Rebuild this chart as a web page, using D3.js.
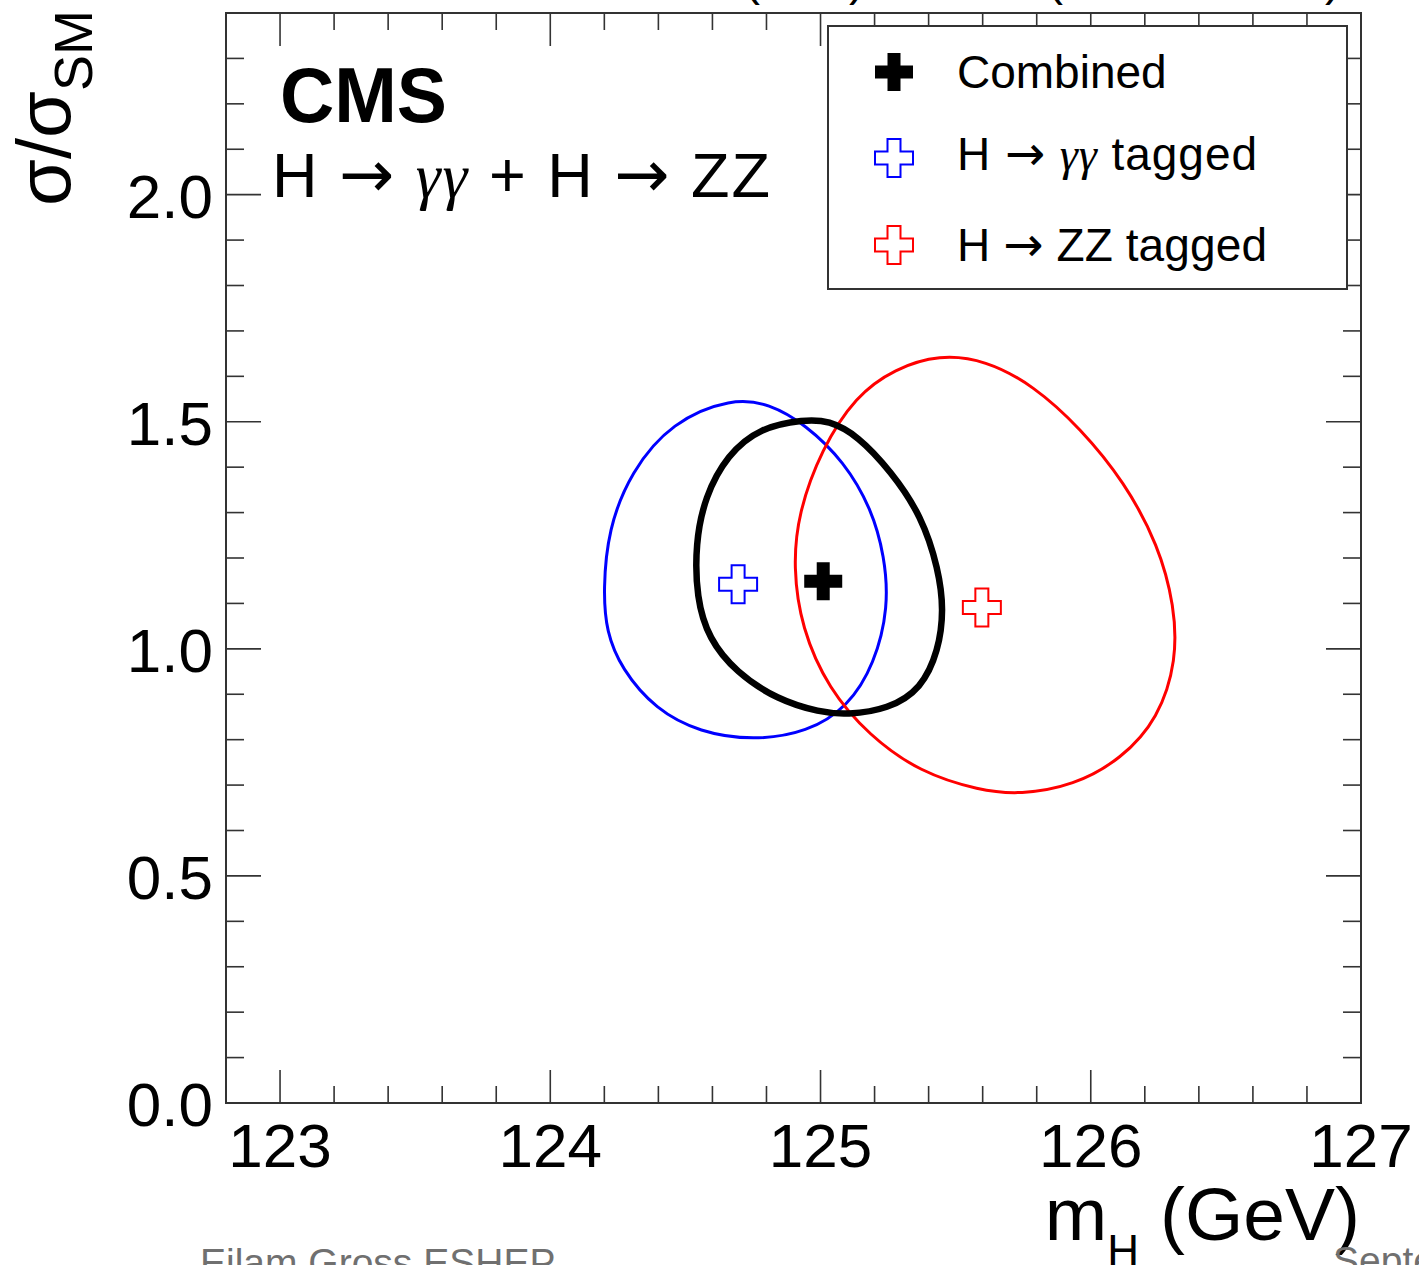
<!DOCTYPE html>
<html><head><meta charset="utf-8">
<script src="https://cdn.jsdelivr.net/npm/d3@7"></script>
<style>body{margin:0;background:#fff;overflow:hidden;} text{font-family:"Liberation Sans",Arial,Helvetica,sans-serif;}</style>
</head><body><svg id="c" width="1419" height="1265"></svg>
<script>
// ---------- data ----------
const xTickValues = [123, 124, 125, 126, 127];
const xTickLabels = ["123", "124", "125", "126", "127"];
const yTickValues = [0.0, 0.5, 1.0, 1.5, 2.0];
const yTickLabels = ["0.0", "0.5", "1.0", "1.5", "2.0"];
const seriesNames = ["Combined", "H → γγ tagged", "H → ZZ tagged"];
const seriesColors = ["#000000", "#0000ff", "#ff0000"];

// best-fit points (mH GeV, sigma/sigma_SM)
const bestCombined = [125.01, 1.149];
const bestGG = [124.695, 1.142];
const bestZZ = [125.597, 1.091];

// 68% CL contours (mH GeV, sigma/sigma_SM)
const contourGG = [
  [124.672, 1.552], [124.450, 1.500], [124.298, 1.390], [124.214, 1.263],
  [124.196, 1.129], [124.207, 1.038], [124.263, 0.956], [124.390, 0.866],
  [124.554, 0.816], [124.750, 0.798], [124.952, 0.816], [125.103, 0.873],
  [125.200, 0.967], [125.252, 1.092], [125.237, 1.204], [125.189, 1.308],
  [125.088, 1.412], [124.945, 1.494], [124.810, 1.540]
];
const contourZZ = [
  [125.440, 1.648], [125.275, 1.617], [125.130, 1.557], [125.003, 1.439],
  [124.917, 1.298], [124.899, 1.180], [124.929, 1.046], [125.030, 0.911],
  [125.180, 0.809], [125.368, 0.728], [125.590, 0.688], [125.738, 0.679],
  [125.937, 0.699], [126.113, 0.757], [126.251, 0.847], [126.318, 0.975],
  [126.310, 1.094], [126.251, 1.228], [126.124, 1.368], [125.963, 1.485],
  [125.788, 1.580], [125.610, 1.636]
];
const contourCombined = [
  [124.940, 1.505], [124.775, 1.487], [124.655, 1.427], [124.572, 1.335],
  [124.537, 1.232], [124.541, 1.112], [124.586, 1.022], [124.688, 0.948],
  [124.840, 0.888], [124.998, 0.860], [125.098, 0.855], [125.250, 0.867],
  [125.374, 0.912], [125.437, 0.997], [125.456, 1.085], [125.437, 1.175],
  [125.374, 1.293], [125.262, 1.390], [125.137, 1.470], [125.030, 1.503]
];

const topCutGlyphs = ["(", ")", "(", ")"];

// ---------- layout ----------
const svg = d3.select("#c");
svg.append("rect").attr("width", 1419).attr("height", 1265).attr("fill", "#fff");
const L = 226, R = 1361, T = 13, B = 1103;
const x = d3.scaleLinear().domain([122.8, 127]).range([L, R]);
const y = d3.scaleLinear().domain([0, 2.4]).range([B, T]);
const axisColor = "#333";
const ARROW = "DejaVu Sans, sans-serif";

// cut-off text fragments at the very top
const topX = [752, 857, 1055, 1333];
svg.selectAll("text.topcut").data(topCutGlyphs).join("text")
  .attr("class", "topcut").attr("x", (d, i) => topX[i]).attr("y", -5)
  .attr("text-anchor", "middle").attr("font-size", 48).text(d => d);

// frame
svg.append("rect").attr("x", L).attr("y", T).attr("width", R - L).attr("height", B - T)
  .attr("fill", "none").attr("stroke", axisColor).attr("stroke-width", 2);

// ticks
const xMinor = d3.range(122.8, 127.001, 0.2).map(v => +v.toFixed(1)).filter(v => !xTickValues.includes(v));
const yMinor = d3.range(0, 2.401, 0.1).map(v => +v.toFixed(1)).filter(v => !yTickValues.includes(v));
const tg = svg.append("g").attr("stroke", axisColor).attr("stroke-width", 1.6);
function vt(vals, len) {
  vals.forEach(v => {
    tg.append("line").attr("x1", x(v)).attr("x2", x(v)).attr("y1", B).attr("y2", B - len);
    tg.append("line").attr("x1", x(v)).attr("x2", x(v)).attr("y1", T).attr("y2", T + len);
  });
}
function ht(vals, len) {
  vals.forEach(v => {
    tg.append("line").attr("y1", y(v)).attr("y2", y(v)).attr("x1", L).attr("x2", L + len);
    tg.append("line").attr("y1", y(v)).attr("y2", y(v)).attr("x1", R).attr("x2", R - len);
  });
}
vt(xTickValues, 33); vt(xMinor, 17);
ht(yTickValues, 35); ht(yMinor, 18);

// tick labels
svg.selectAll("text.xl").data(xTickValues).join("text").attr("class", "xl")
  .attr("x", d => x(d)).attr("y", 1167).attr("text-anchor", "middle")
  .attr("font-size", 62).text((d, i) => xTickLabels[i]);
svg.selectAll("text.yl").data(yTickValues).join("text").attr("class", "yl")
  .attr("x", 213).attr("y", d => y(d) + 23).attr("text-anchor", "end")
  .attr("font-size", 62).text((d, i) => yTickLabels[i]);

// axis titles
const xt = svg.append("text").attr("x", 1360).attr("y", 1240).attr("text-anchor", "end").attr("font-size", 75);
xt.append("tspan").text("m");
xt.append("tspan").attr("font-size", 44).attr("dy", 26).text("H");
xt.append("tspan").attr("dy", -26).text(" (GeV)");

const yt = svg.append("text").attr("transform", "translate(70,10) rotate(-90)")
  .attr("text-anchor", "end").attr("font-size", 76);
yt.append("tspan").text("σ/σ");
yt.append("tspan").attr("font-size", 54).attr("dy", 22).text("SM");

// contours
const line = d3.line().x(d => x(d[0])).y(d => y(d[1])).curve(d3.curveBasisClosed);
const plot = svg.append("g");
plot.append("path").attr("d", line(contourGG)).attr("fill", "none").attr("stroke", seriesColors[1]).attr("stroke-width", 3);
plot.append("path").attr("d", line(contourZZ)).attr("fill", "none").attr("stroke", seriesColors[2]).attr("stroke-width", 3);
plot.append("path").attr("d", line(contourCombined)).attr("fill", "none").attr("stroke", seriesColors[0]).attr("stroke-width", 6.5);

// markers
function crossPath(cx, cy) {
  const a = 6.5, h = 19;
  const p = [[-a,-h],[a,-h],[a,-a],[h,-a],[h,a],[a,a],[a,h],[-a,h],[-a,a],[-h,a],[-h,-a],[-a,-a]];
  return "M" + p.map(q => (cx + q[0]) + "," + (cy + q[1])).join("L") + "Z";
}
plot.append("path").attr("d", crossPath(x(bestGG[0]), y(bestGG[1]))).attr("fill", "none").attr("stroke", seriesColors[1]).attr("stroke-width", 2);
plot.append("path").attr("d", crossPath(x(bestZZ[0]), y(bestZZ[1]))).attr("fill", "none").attr("stroke", seriesColors[2]).attr("stroke-width", 2);
plot.append("path").attr("d", crossPath(x(bestCombined[0]), y(bestCombined[1]))).attr("fill", seriesColors[0]);

// CMS label
svg.append("text").attr("x", 280).attr("y", 122).attr("font-size", 78).attr("font-weight", "bold")
  .attr("textLength", 167).attr("lengthAdjust", "spacingAndGlyphs").text("CMS");
const hdr = svg.append("text").attr("x", 272).attr("y", 197).attr("font-size", 63)
  .attr("textLength", 498).attr("lengthAdjust", "spacing");
hdr.append("tspan").text("H ");
hdr.append("tspan").attr("font-family", ARROW).attr("font-size", 66).text("→");
hdr.append("tspan").text(" ");
hdr.append("tspan").attr("font-family", "Liberation Serif, serif").attr("font-style", "italic").text("γγ");
hdr.append("tspan").text(" + H ");
hdr.append("tspan").attr("font-family", ARROW).attr("font-size", 66).text("→");
hdr.append("tspan").text(" ZZ");

// legend
svg.append("rect").attr("x", 828).attr("y", 26).attr("width", 519).attr("height", 263)
  .attr("fill", "#fff").attr("stroke", axisColor).attr("stroke-width", 2);
const legY = [72, 158, 245];
const legBase = [88, 170, 261];
const legLen = [208, 300, 310];
svg.append("path").attr("d", crossPath(894, legY[0])).attr("fill", seriesColors[0]);
svg.append("path").attr("d", crossPath(894, legY[1])).attr("fill", "none").attr("stroke", seriesColors[1]).attr("stroke-width", 2);
svg.append("path").attr("d", crossPath(894, legY[2])).attr("fill", "none").attr("stroke", seriesColors[2]).attr("stroke-width", 2);
seriesNames.forEach((name, i) => {
  const t = svg.append("text").attr("x", 957).attr("y", legBase[i]).attr("font-size", 46);
  if (name.includes("→")) {
    t.attr("textLength", legLen[i]).attr("lengthAdjust", "spacing");
    const [pre, rest] = name.split("→");
    t.append("tspan").text(pre);
    t.append("tspan").attr("font-family", ARROW).attr("font-size", 48).text("→");
    if (rest.includes("γγ")) {
      const parts = rest.split("γγ");
      t.append("tspan").text(parts[0]);
      t.append("tspan").attr("font-family", "Liberation Serif, serif").attr("font-style", "italic").text("γγ");
      t.append("tspan").text(parts[1]);
    } else t.append("tspan").text(rest);
  } else t.text(name);
});

// footer fragments
svg.append("text").attr("x", 200).attr("y", 1276).attr("font-size", 39).attr("fill", "#707070").text("Eilam Gross ESHEP");
svg.append("text").attr("x", 1333).attr("y", 1274).attr("font-size", 39).attr("fill", "#707070").text("September 2012");
</script></body></html>
